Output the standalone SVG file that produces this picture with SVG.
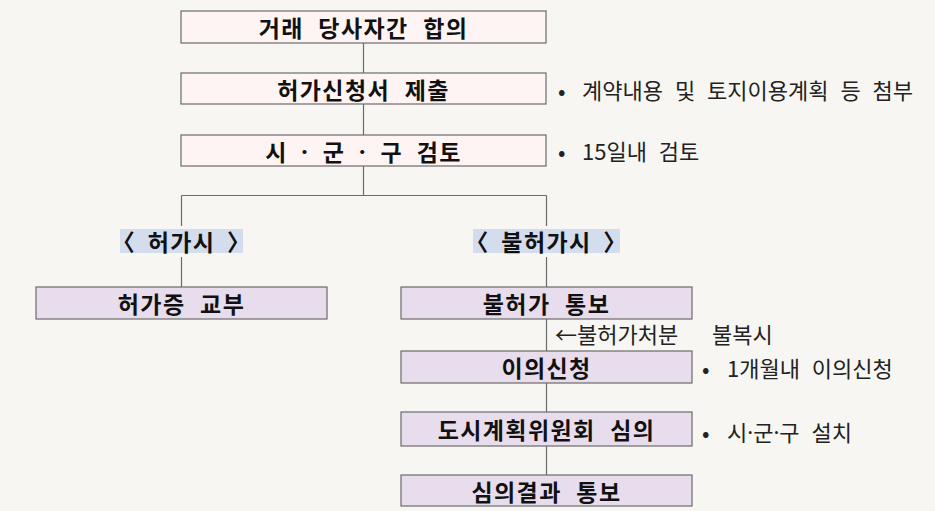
<svg xmlns="http://www.w3.org/2000/svg" width="935" height="511" viewBox="0 0 935 511">
<style>
.bg{fill:#f7f6f2}
.pink{fill:#fdf4f3;stroke:#6b6b6b;stroke-width:1.2}
.lav{fill:#e8ddec;stroke:#6b6b6b;stroke-width:1.2}
.hl{fill:#d3ddee}
.t{font-family:"Noto Sans CJK KR","Noto Sans",sans-serif;font-weight:bold;font-size:23px;fill:#111;text-anchor:middle;dominant-baseline:central;letter-spacing:1.4px;word-spacing:8px}
.n{font-family:"Noto Sans CJK KR","Noto Sans",sans-serif;font-size:22px;fill:#222;dominant-baseline:central;word-spacing:7px}
.d{font-family:"Noto Sans",sans-serif}
.c{stroke:#6b6b6b;stroke-width:1.2;fill:none}
</style>
<rect class="bg" x="0" y="0" width="935" height="511"/>
<g id="connectors">
<path class="c" d="M363.5 43V73M363.5 104V135M363.5 166V195.5M181.5 195.5H546.5M181.5 195.5V226M546.5 195.5V226M181.5 257V287M546.5 257V287M546.5 319V351M546.5 383V412M546.5 446V475"/>
</g>
<g id="n1"><rect class="pink" x="181" y="11" width="365" height="32"/><text class="t" x="363.5" y="27">거래 당사자간 합의</text></g>
<g id="n2"><rect class="pink" x="181" y="73" width="365" height="31"/><text class="t" x="363.5" y="88.5">허가신청서 제출</text></g>
<g id="n3"><rect class="pink" x="181" y="135" width="365" height="31"/><text class="t" x="363.5" y="150.5" style="word-spacing:7px">시 <tspan class="d">·</tspan> 군 <tspan class="d">·</tspan> 구 검토</text></g>
<g id="l1"><rect class="hl" x="120" y="229" width="123" height="24"/><text class="t" x="181.5" y="241" style="word-spacing:5px">〈 허가시 〉</text></g>
<g id="l2"><rect class="hl" x="473" y="229" width="147" height="24"/><text class="t" x="546.5" y="241" style="word-spacing:5px">〈 불허가시 〉</text></g>
<g id="n4"><rect class="lav" x="36" y="287" width="291" height="32"/><text class="t" x="181.5" y="303">허가증 교부</text></g>
<g id="n5"><rect class="lav" x="401" y="287" width="291" height="32"/><text class="t" x="546.5" y="303">불허가 통보</text></g>
<g id="n6"><rect class="lav" x="401" y="351" width="291" height="32"/><text class="t" x="546.5" y="367">이의신청</text></g>
<g id="n7"><rect class="lav" x="401" y="412" width="291" height="34"/><text class="t" x="546.5" y="429">도시계획위원회 심의</text></g>
<g id="n8"><rect class="lav" x="401" y="475" width="291" height="31"/><text class="t" x="546.5" y="490.5">심의결과 통보</text></g>
<g id="notes">
<text class="n" x="558" y="89">•<tspan x="582">계약내용 및 토지이용계획 등 첨부</tspan></text>
<text class="n" x="558" y="150">•<tspan x="582">15일내 검토</tspan></text>
<text class="n" x="555" y="333">←불허가처분<tspan x="712">불복시</tspan></text>
<text class="n" x="702" y="367">•<tspan x="727">1개월내 이의신청</tspan></text>
<text class="n" x="702" y="431">•<tspan x="727">시<tspan class="d">·</tspan>군<tspan class="d">·</tspan>구 설치</tspan></text>
</g>
</svg>
